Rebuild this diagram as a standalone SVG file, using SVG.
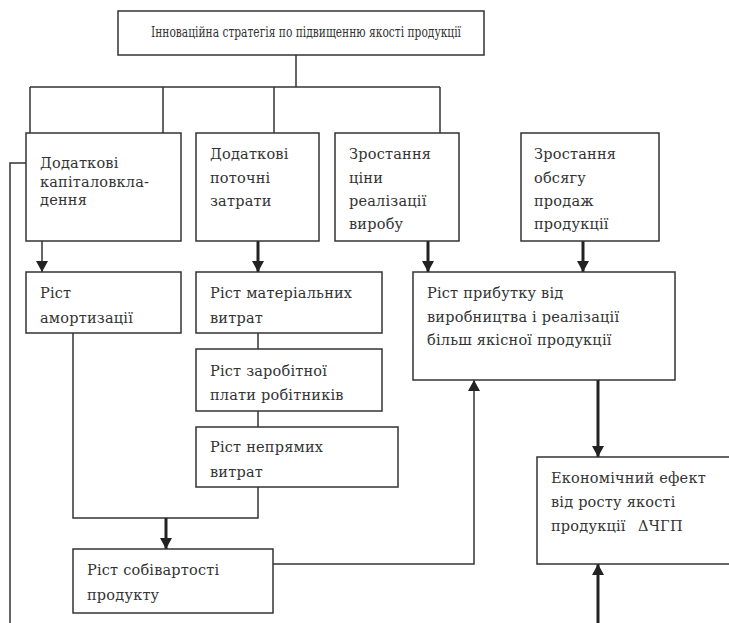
<svg xmlns="http://www.w3.org/2000/svg" width="729" height="623" viewBox="0 0 729 623">
<style>
.box{fill:#fff;stroke:#333;stroke-width:1.5}
.ln{fill:none;stroke:#333;stroke-width:1.5}
.thk{fill:none;stroke:#222;stroke-width:3}
text{font-family:"DejaVu Serif","Liberation Serif",serif;font-size:14.5px;letter-spacing:0.2px;fill:#333}
</style>
<defs>
<marker id="ah" markerUnits="userSpaceOnUse" markerWidth="11" markerHeight="12" refX="11" refY="6" orient="auto" viewBox="0 0 11 12">
<path d="M0,0 L11,6 L0,12 Z" fill="#222"/>
</marker>
</defs>
<rect width="729" height="623" fill="#fff"/>
<g id="connectors">
<path class="ln" d="M296,55 V87 M30,87 H440 M30,87 V133 M163,87 V133 M274,87 V133 M440,87 V133"/>
<path class="ln" d="M26,163 H10 V623"/>
<path class="ln" d="M42,241 V272" marker-end="url(#ah)"/>
<path class="thk" d="M258,241 V272" marker-end="url(#ah)"/>
<path class="thk" d="M428,241 V272" marker-end="url(#ah)"/>
<path class="thk" d="M583,241 V272" marker-end="url(#ah)"/>
<path class="ln" d="M258,333 V349 M258,411 V427"/>
<path class="ln" d="M73,333 V518 H258 V487"/>
<path class="thk" d="M166,518 V549" marker-end="url(#ah)"/>
<path class="ln" d="M273,564 H474 V380" marker-end="url(#ah)"/>
<path class="thk" d="M598,380 V457" marker-end="url(#ah)"/>
<path class="thk" d="M598,623 V564" marker-end="url(#ah)"/>
</g>
<g id="n-title"><rect class="box" x="118" y="11" width="366" height="44"/><text x="151" y="37" style="font-size:14px;letter-spacing:0" textLength="310" lengthAdjust="spacingAndGlyphs">Інноваційна стратегія по підвищенню якості продукції</text></g>
<g id="n-kap"><rect class="box" x="26" y="133" width="155" height="108"/><text x="40" y="168">Додаткові</text><text x="40" y="187">капіталовкла-</text><text x="40" y="205">дення</text></g>
<g id="n-pot"><rect class="box" x="196" y="133" width="123" height="108"/><text x="210" y="159">Додаткові</text><text x="210" y="183">поточні</text><text x="210" y="206">затрати</text></g>
<g id="n-tsiny"><rect class="box" x="335" y="133" width="124" height="108"/><text x="349" y="159">Зростання</text><text x="349" y="183">ціни</text><text x="349" y="206">реалізації</text><text x="349" y="229">виробу</text></g>
<g id="n-obs"><rect class="box" x="521" y="133" width="138" height="108"/><text x="534" y="159">Зростання</text><text x="534" y="183">обсягу</text><text x="534" y="206">продаж</text><text x="534" y="229">продукції</text></g>
<g id="n-amort"><rect class="box" x="26" y="272" width="155" height="61"/><text x="40" y="298">Ріст</text><text x="40" y="323">амортизації</text></g>
<g id="n-mat"><rect class="box" x="196" y="272" width="186" height="61"/><text x="210" y="298">Ріст матеріальних</text><text x="210" y="323">витрат</text></g>
<g id="n-zar"><rect class="box" x="196" y="349" width="186" height="62"/><text x="210" y="376">Ріст заробітної</text><text x="210" y="400">плати робітників</text></g>
<g id="n-nepr"><rect class="box" x="196" y="427" width="202" height="60"/><text x="210" y="452">Ріст непрямих</text><text x="210" y="477">витрат</text></g>
<g id="n-sobiv"><rect class="box" x="73" y="549" width="200" height="64"/><text x="87" y="575">Ріст собівартості</text><text x="87" y="600">продукту</text></g>
<g id="n-prib"><rect class="box" x="413" y="272" width="262" height="108"/><text x="427" y="298">Ріст прибутку від</text><text x="427" y="322">виробництва і реалізації</text><text x="427" y="345">більш якісної продукції</text></g>
<g id="n-econ"><rect class="box" x="537" y="457" width="200" height="107"/><text x="551" y="483">Економічний ефект</text><text x="551" y="507">від росту якості</text><text x="551" y="531">продукції<tspan x="638">ΔЧГП</tspan></text></g>
</svg>
